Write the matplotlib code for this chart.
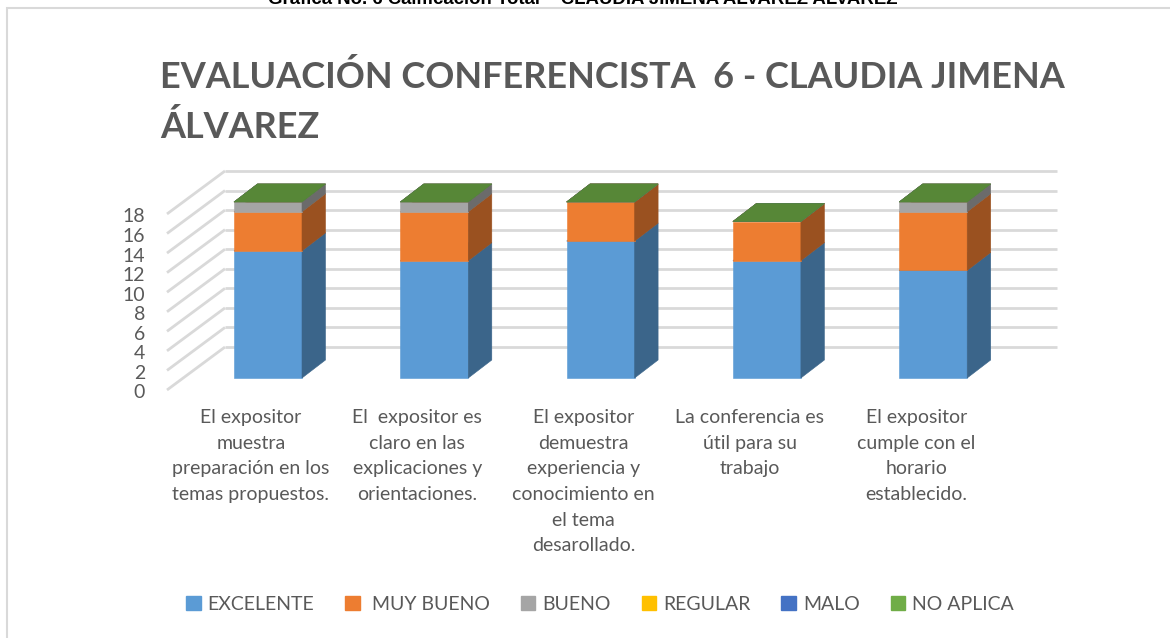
import matplotlib
matplotlib.use("Agg")
import matplotlib.pyplot as plt
from matplotlib.patches import Polygon, Rectangle, Patch
from matplotlib.lines import Line2D
import matplotlib.colors as mcolors

# ---------------- data ----------------
categories = [
    "El expositor\nmuestra\npreparación en los\ntemas propuestos.",
    "El  expositor es\nclaro en las\nexplicaciones y\norientaciones.",
    "El expositor\ndemuestra\nexperiencia y\nconocimiento en\nel tema\ndesarollado.",
    "La conferencia es\nútil para su\ntrabajo",
    "El expositor\ncumple con el\nhorario\nestablecido.",
]
series_names = ["EXCELENTE", " MUY BUENO", "BUENO", "REGULAR", "MALO", "NO APLICA"]
excelente = [13, 12, 14, 12, 11]
muy_bueno = [4, 5, 4, 4, 6]
bueno = [1, 1, 0, 0, 1]
regular = [0, 0, 0, 0, 0]
malo = [0, 0, 0, 0, 0]
no_aplica = [0, 0, 0, 0, 0]
series_values = [excelente, muy_bueno, bueno, regular, malo, no_aplica]
series_colors = ["#5B9BD5", "#ED7D31", "#A5A5A5", "#FFC000", "#4472C4", "#70AD47"]
y_ticks = [0, 2, 4, 6, 8, 10, 12, 14, 16, 18]

title_line1 = "EVALUACIÓN CONFERENCISTA  6 - CLAUDIA JIMENA"
title_line2 = "ÁLVAREZ"
caption = "Grafica No. 6 Calificación Total – CLAUDIA JIMENA ALVAREZ ALVAREZ"

# ---------------- layout ----------------
W, H = 1170, 638
fig = plt.figure(figsize=(W / 100, H / 100), dpi=100)
fig.patch.set_facecolor("white")

PX_CAT = 166.3    # pixels per category step
PX_VAL = 9.78     # pixels per value unit
OX, OY = 268, 378  # pixel of category 0 / value 0 (bar front face)

ax = fig.add_axes([0, 0, 1, 1])
ax.set_xlim(-OX / PX_CAT, (W - OX) / PX_CAT)
ax.set_ylim((OY - H) / PX_VAL, OY / PX_VAL)
ax.axis("off")

# 3D geometry (in data units)
bar_w = 68 / PX_CAT
bar_dx, bar_dy = 23.5 / PX_CAT, 18 / PX_VAL           # bar depth
floor_dx, floor_dy = -17 / PX_CAT, -12 / PX_VAL        # floor front edge offset
wall_dy = floor_dy + 43 / PX_VAL
wall_right = (1057 - OX) / PX_CAT
floor_left = (167 - OX) / PX_CAT
floor_depth_x = 58 / PX_CAT

grid_c = "#D9D9D9"
for v in y_ticks:
    ax.add_line(Line2D([floor_left + floor_depth_x, wall_right], [v + wall_dy, v + wall_dy],
                       color=grid_c, lw=2.0, zorder=1, solid_capstyle="butt"))
    ax.add_line(Line2D([floor_left, floor_left + floor_depth_x], [v + floor_dy, v + wall_dy],
                       color=grid_c, lw=2.0, zorder=1, solid_capstyle="butt"))
    ax.text(floor_left - 22 / PX_CAT, v + floor_dy - 0.3, str(v), ha="right", va="center",
            fontsize=14, color="#595959", family="Lato")


def shade(c, f):
    r, g, b = mcolors.to_rgb(c)
    return (r * f, g * f, b * f)


for i in range(len(categories)):
    bottom = 0
    for k, (vals, col) in enumerate(zip(series_values, series_colors)):
        z = 3 + 0.1 * k
        h = vals[i]
        x0 = i - bar_w / 2
        x1 = i + bar_w / 2
        if h > 0:
            ax.bar(i, h, bottom=bottom, width=bar_w, color=col, edgecolor=col,
                   linewidth=0.4, zorder=z)
            sc = shade(col, 0.65)
            ax.add_patch(Polygon([(x1, bottom), (x1 + bar_dx, bottom + bar_dy),
                                  (x1 + bar_dx, bottom + h + bar_dy), (x1, bottom + h)],
                                 closed=True, facecolor=sc, edgecolor=sc, lw=0.4, zorder=z))
        top_y = bottom + h
        tc = shade(col, 0.78)
        ax.add_patch(Polygon([(x0, top_y), (x1, top_y), (x1 + bar_dx, top_y + bar_dy),
                              (x0 + bar_dx, top_y + bar_dy)], closed=True,
                             facecolor=tc, edgecolor=tc, lw=0.4, zorder=z + 0.01))
        bottom += h

# category labels
for i, lab in enumerate(categories):
    ax.text(i + floor_dx, (OY - 409) / PX_VAL, lab, ha="center", va="top",
            fontsize=14, color="#595959", family="Lato", linespacing=1.62,
            multialignment="center")

# title (fit to reference width)
t1 = fig.text(160 / W, 1 - 88 / H, title_line1, ha="left", va="baseline",
              fontsize=31, fontweight="bold", color="#595959", family="Lato")
# caption (cut off at top)
cap = fig.text(583 / W, 1 - 4 / H, caption, ha="center", va="baseline",
               fontsize=11, fontweight="bold", color="black",
               family=["Liberation Sans Narrow", "Liberation Sans"])
fig.canvas.draw()
fs = 31 * 905 / t1.get_window_extent().width
t1.set_fontsize(fs)
cap.set_fontsize(11 * 629 / cap.get_window_extent().width)
fig.text(160 / W, 1 - 138 / H, title_line2, ha="left", va="baseline",
         fontsize=fs, fontweight="bold", color="#595959", family="Lato")

# border
fig.add_artist(Rectangle((7 / W, -0.05), 1.2, 1.05 - 8 / H, transform=fig.transFigure,
                         fill=False, edgecolor="#D9D9D9", lw=1.5))

# legend
handles = [Patch(facecolor=c, edgecolor=c) for c in series_colors]
fig.legend(handles, series_names, loc="center", bbox_to_anchor=(600 / W, 1 - 604 / H),
           ncol=6, frameon=False, handlelength=0.75, handleheight=0.75,
           handletextpad=0.35, columnspacing=1.6,
           prop={"family": "Lato", "size": 14}, labelcolor="#595959")

fig.savefig("out.png", dpi=100, facecolor="white")
